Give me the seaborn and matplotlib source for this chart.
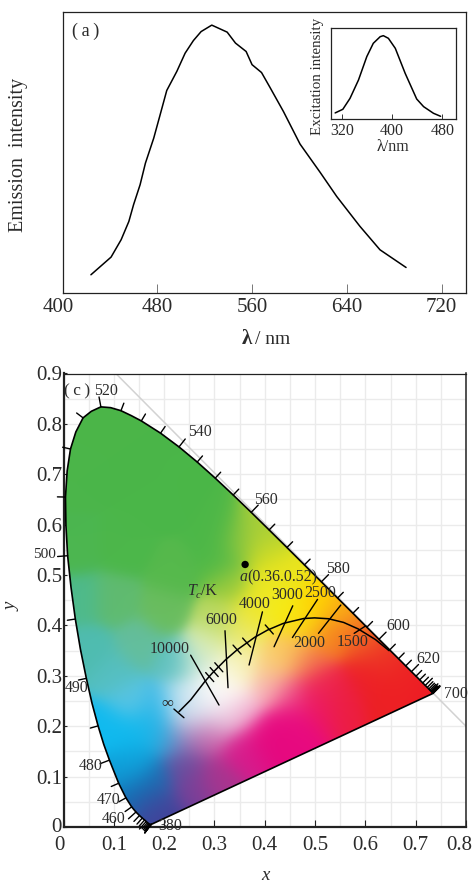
import numpy as np
import pandas as pd
import matplotlib
matplotlib.use("Agg")
import matplotlib.pyplot as plt
from matplotlib.patches import Polygon
from matplotlib.transforms import ScaledTranslation
import seaborn as sns

sns.set_theme(style="white")
plt.rcParams["font.family"] = ["Liberation Serif", "DejaVu Sans"]
plt.rcParams["text.color"] = "#2b2b2b"

W, H = 473, 882

# (a) emission curve
em_nm = [424, 441, 449.5, 456, 460, 465.5, 470, 477, 482, 488, 496.5, 503.5, 510.5, 517,
         526, 539, 546, 555, 560, 568, 575, 586.5, 600.5, 617.5, 631.5, 651, 668, 690]
em_val = [.065, .128, .19, .255, .315, .386, .463, .552, .629, .722, .79, .855, .90, .932,
          .955, .93, .891, .861, .814, .786, .734, .647, .531, .43, .344, .238, .154, .091]

# inset excitation curve
ex_nm = [309.4, 321.6, 333, 346.5, 359.7, 370, 381, 386, 394, 405, 420.7, 439, 450, 465.7, 477]
ex_val = [.07, .11, .23, .432, .689, .835, .908, .919, .89, .78, .505, .223, .139, .066, .033]

# (c) spectral locus
loc_nm = [380, 385, 390, 395, 400, 405, 410, 415, 420, 425, 430, 435, 440, 445, 450, 455, 460, 465, 470,
          475, 480, 482.5, 485, 487.5, 490, 492.5, 495, 497.5, 500, 502.5, 505, 507.5, 510, 512.5, 515, 517.5,
          520, 522.5, 525, 527.5, 530, 535, 540, 545, 550, 555, 560, 565, 570, 575, 580, 585, 590, 595, 600,
          605, 610, 615, 620, 625, 630, 635, 640, 645, 650, 655, 660, 665, 670, 675, 680, 685, 690, 695, 700]
loc_x = [.1741, .1740, .1738, .1736, .1733, .1730, .1726, .1721, .1714, .1703, .1689, .1669, .1644, .1611,
         .1566, .1510, .1440, .1355, .1241, .1096, .0913, .0800, .0687, .0568, .0454, .0336, .0235, .0149,
         .0082, .0048, .0039, .0073, .0139, .0245, .0389, .0553, .0743, .0938, .1142, .1345, .1547, .1929,
         .2296, .2658, .3016, .3373, .3731, .4087, .4441, .4788, .5125, .5448, .5752, .6029, .6270, .6482,
         .6658, .6801, .6915, .7006, .7079, .7140, .7190, .7230, .7260, .7283, .7300, .7311, .7320, .7327,
         .7334, .7340, .7344, .7346, .7347]
loc_y = [.0050, .0050, .0049, .0049, .0048, .0048, .0048, .0048, .0051, .0058, .0069, .0086, .0109, .0138,
         .0177, .0227, .0297, .0399, .0578, .0868, .1327, .1640, .2007, .2450, .2950, .3530, .4127, .4760,
         .5384, .5990, .6548, .7070, .7502, .7840, .8120, .8250, .8338, .8322, .8262, .8165, .8059, .7816,
         .7543, .7243, .6923, .6589, .6245, .5896, .5547, .5202, .4866, .4544, .4242, .3965, .3725, .3514,
         .3340, .3197, .3083, .2993, .2920, .2859, .2809, .2770, .2740, .2717, .2700, .2689, .2680, .2673,
         .2666, .2660, .2656, .2654, .2653]

# Planckian curve
pl_x = [.2295, .2528, .2807, .2951, .3221, .3451, .3805, .4053, .4369, .4770, .4990, .5267, .5567, .5857, .6200, .6470]
pl_y = [.2288, .2523, .2884, .3048, .3318, .3516, .3768, .3907, .4041, .4137, .4150, .4133, .4060, .3931, .3720, .3500]

# colour temperature lines
iso_names = ["10000", "6000", "4000", "3000", "2500", "2000", "1500"]
iso_x0 = [.2527, .321, .3954, .4557, .5049, .5512, .601]
iso_y0 = [.341, .3895, .427, .439, .4517, .4405, .3994]
iso_x1 = [.3091, .327, .3688, .4185, .455, .5068, .5777]
iso_y1 = [.242, .2764, .3214, .3577, .376, .3843, .3843]

# short marks on the Planckian curve
mark_x = [.2906, .2995, .3087, .345, .364, .409]
mark_y = [.2975, .3075, .317, .352, .366, .392]

# colours at some points
col_pts = [
    (.08, .80, "#4CB648"), (.03, .70, "#4BB54A"), (.20, .65, "#4AB648"), (.30, .58, "#4CB748"),
    (.12, .55, "#4CB74A"), (.306, .524, "#4DB848"), (.22, .50, "#56B94C"), (.15, .70, "#4AB648"),
    (.02, .55, "#4CB650"), (.10, .45, "#60BB70"), (.20, .43, "#6ABD5F"), (.03, .45, "#4EBA8C"),
    (.05, .35, "#4FBCB0"), (.10, .30, "#55BFC0"), (.13, .25, "#5AC5E6"), (.219, .325, "#5CC0C0"),
    (.15, .36, "#64BE9C"), (.12, .18, "#10BAEF"), (.08, .20, "#10BAEF"), (.17, .20, "#18B8EC"),
    (.14, .13, "#10A8E0"), (.12, .11, "#0E9ED8"), (.14, .07, "#1868B0"), (.18, .09, "#1C6CB2"),
    (.18, .04, "#3A4FA0"), (.20, .02, "#433E98"), (.25, .07, "#7B3F98"), (.30, .10, "#A8358F"),
    (.24, .12, "#6A4E9E"), (.35, .15, "#D81B8C"), (.40, .18, "#E6087F"), (.45, .21, "#E80A80"),
    (.50, .25, "#EC1468"), (.55, .26, "#EC1E40"), (.60, .30, "#ED2027"), (.68, .30, "#ED2224"),
    (.73, .265, "#ED1C24"), (.64, .27, "#ED2024"), (.60, .36, "#EE4A26"), (.64, .33, "#EE3526"),
    (.517, .278, "#EE2A50"), (.45, .266, "#EE4E8A"), (.405, .278, "#F8B8C0"), (.35, .23, "#F0B0D0"),
    (.306, .212, "#E8D0E4"), (.287, .178, "#C85AA5"), (.246, .178, "#9A5FA8"), (.207, .178, "#30A8DC"),
    (.247, .21, "#E2E4F0"), (.253, .235, "#CDE4F2"), (.239, .252, "#D0E8F2"), (.193, .238, "#3BB8E8"),
    (.286, .252, "#F8F8F8"), (.327, .266, "#FFFFFF"), (.30, .28, "#FBFBFB"), (.33, .31, "#FAF8E0"),
    (.352, .317, "#F6F0A0"), (.266, .325, "#CCE8D8"), (.306, .41, "#B8D860"), (.29, .36, "#DCEDB0"),
    (.372, .424, "#F0E830"), (.35, .38, "#EEEA70"), (.438, .437, "#F7EC13"), (.40, .47, "#EEE824"),
    (.352, .563, "#8CC63F"), (.405, .543, "#D7DF23"), (.445, .50, "#EBE51E"), (.332, .484, "#9CCB3C"),
    (.40, .58, "#A8CF38"), (.50, .45, "#FFD400"), (.48, .40, "#FCDC10"), (.552, .43, "#FBB016"),
    (.525, .377, "#F58220"), (.485, .325, "#F26A50"), (.45, .345, "#FACC60"), (.418, .317, "#FAD070"),
    (.58, .39, "#F47A22"),
]
col_x = [p[0] for p in col_pts]
col_y = [p[1] for p in col_pts]
col_hex = [p[2] for p in col_pts]

point_x, point_y = .361, .521

# labels of diagram (c)
lab_txt = ["520", "540", "560", "580", "600", "620", "700", "490", "480", "470", "460", "380"]
lab_x = [.085, .271, .402, .545, .665, .726, .780, .026, .054, .090, .099, .213]
lab_y = [.865, .784, .649, .512, .399, .333, .264, .275, .121, .054, .016, .002]
iso_lab_x = [.211, .314, .380, .444, .511, .488, .575]
iso_lab_y = [.354, .410, .443, .461, .464, .365, .367]

fig = plt.figure(figsize=(W / 100, H / 100), dpi=100)


def make_axes(left, right, top, bottom):
    return fig.add_axes([left / W, 1 - bottom / H, (right - left) / W, (bottom - top) / H])


# ---- (a) ----
ax = make_axes(62.5, 466, 12.5, 293)
sns.lineplot(x=em_nm, y=em_val, ax=ax, color="black", lw=1.1, estimator=None, sort=False)
ax.set_xlim(400, 740.6)
ax.set_ylim(0, 1)
ax.set_xticks([400, 480, 560, 640, 720])
ax.set_yticks([])
ax.tick_params(axis="x", direction="in", length=6.5, width=.7, color="#777777", labelsize=15,
               labelcolor="#2b2b2b", pad=3.5, bottom=True)
ax.get_xticklabels()[0].set_transform(ax.get_xticklabels()[0].get_transform()
                                      + ScaledTranslation(-4 / 100, 0, fig.dpi_scale_trans))
for s in ax.spines.values():
    s.set_color("#222222")
    s.set_linewidth(.9)
fig.text(86 / W, 1 - 31 / H, "(\u2009a\u2009)", fontsize=13, ha="center", va="center")
fig.text(19 / W, 1 - 155 / H, "Emission  intensity", rotation=90, fontsize=14.5, ha="center", va="center")
fig.text(247 / W, 1 - 339 / H, "λ", fontsize=15, fontweight="bold", ha="center", va="center")
fig.text(273 / W, 1 - 339 / H, "/ nm", fontsize=14, ha="center", va="center")

# inset
axi = make_axes(330.5, 455.5, 28.3, 119.3)
sns.lineplot(x=ex_nm, y=ex_val, ax=axi, color="black", lw=1.1, estimator=None, sort=False)
axi.set_xlim(302, 500.7)
axi.set_ylim(0, 1)
axi.set_xticks([320, 400, 480])
axi.set_yticks([])
axi.tick_params(axis="x", direction="in", length=3.5, width=.7, color="#333333", labelsize=11.5,
                labelcolor="#2b2b2b", pad=3, bottom=True)
for s in axi.spines.values():
    s.set_color("#222222")
    s.set_linewidth(.9)
fig.text(317 / W, 1 - 76 / H, "Excitation intensity", rotation=90, fontsize=10.8, ha="center", va="center")
fig.text(393 / W, 1 - 147 / H, "λ/nm", fontsize=11.5, ha="center", va="center")

# ---- (c) ----
ax2 = make_axes(63.5, 466, 373.5, 827)
ax2.set_xlim(0, .8)
ax2.set_ylim(0, .9)
ax2.set_axisbelow(True)
ax2.set_xticks(np.arange(.05, .8, .05), minor=True)
ax2.set_yticks(np.arange(.05, .9, .05), minor=True)
ax2.grid(which="both", color="#ebebeb", lw=1)
ax2.plot([.104, .8], [.9, .2], color="#d2d2d2", lw=1.1)

# colour fill, weighted from the picked colours
gx, gy = np.meshgrid(np.linspace(0, .8, 400), np.linspace(0, .9, 450))
rgb = np.array([matplotlib.colors.to_rgb(c) for c in col_hex])
dist = (gx[..., None] - np.array(col_x)) ** 2 + (gy[..., None] - np.array(col_y)) ** 2
weight = np.exp(-dist / (2 * .028 ** 2)) + 1e-12
img = (weight[..., None] * rgb).sum(axis=2) / weight.sum(axis=2, keepdims=True)
im = ax2.imshow(img, origin="lower", extent=[0, .8, 0, .9], aspect="auto", interpolation="bilinear", zorder=1)
im.set_clip_path(Polygon(np.column_stack([loc_x, loc_y]), transform=ax2.transData))

locus = pd.DataFrame({"x": loc_x + loc_x[:1], "y": loc_y + loc_y[:1]})
sns.lineplot(data=locus, x="x", y="y", ax=ax2, color="black", lw=1.2, estimator=None, sort=False, zorder=3)

# wavelength ticks, normal to the locus
lx, ly = np.array(loc_x), np.array(loc_y)
dx, dy = np.gradient(lx), np.gradient(ly)
norm = np.hypot(dx, dy)
norm[norm == 0] = 1
for i in range(len(lx)):
    if loc_nm[i] % 5 != 0:
        continue
    if loc_nm[i] < 420:
        nx, ny = -.6, -.8
    else:
        nx, ny = -dy[i] / norm[i], dx[i] / norm[i]
    size = .02 if loc_nm[i] % 20 == 0 else .016
    ax2.plot([lx[i], lx[i] + nx * size], [ly[i], ly[i] + ny * size], color="black", lw=1,
             zorder=3, clip_on=False)

sns.lineplot(x=pl_x, y=pl_y, ax=ax2, color="black", lw=1.1, estimator=None, sort=False, zorder=4)
for name, x0, y0, x1, y1 in zip(iso_names, iso_x0, iso_y0, iso_x1, iso_y1):
    ax2.plot([x0, x1], [y0, y1], color="black", lw=1, zorder=4)
for x, y in zip(mark_x, mark_y):
    ax2.plot([x - .008, x + .008], [y + .009, y - .009], color="black", lw=1, zorder=4)
ax2.plot([.2195, .2394], [.2341, .2169], color="black", lw=1, zorder=4)
sns.scatterplot(x=[point_x], y=[point_y], ax=ax2, color="black", s=28, zorder=5, edgecolor="none")

for t, x, y in zip(lab_txt, lab_x, lab_y):
    ax2.text(x, y, t, fontsize=11.4, ha="center", va="center", zorder=6)
for t, x, y in zip(iso_names, iso_lab_x, iso_lab_y):
    ax2.text(x, y, t, fontsize=11.4, ha="center", va="center", zorder=6)
fig.text(45 / W, 1 - 555 / H, "500", fontsize=11, ha="center", va="center")
ax2.text(.207, .244, "∞", fontsize=12, ha="center", va="center", zorder=6)
ax2.text(.256, .468, "T", fontsize=11.4, style="italic", ha="center", va="center", zorder=6)
ax2.text(.267, .460, "c", fontsize=8, style="italic", ha="center", va="center", zorder=6)
ax2.text(.289, .468, "/K", fontsize=11.4, ha="center", va="center", zorder=6)
ax2.text(.349, .496, "a", fontsize=11.4, style="italic", ha="left", va="center", zorder=6)
ax2.text(.366, .496, "(0.36.0.52)", fontsize=11.4, ha="left", va="center", zorder=6)
fig.text(77 / W, 1 - 391 / H, "(\u2009c\u2009)", fontsize=12.5, ha="center", va="center")

ax2.set_xticks(np.arange(0, .81, .1))
ax2.set_yticks(np.arange(0, .91, .1))
ax2.set_xticklabels(["0", "0.1", "0.2", "0.3", "0.4", "0.5", "0.6", "0.7", "0.8"])
ax2.set_yticklabels(["0", "0.1", "0.2", "0.3", "0.4", "0.5", "0.6", "0.7", "0.8", "0.9"])
ax2.tick_params(axis="x", which="major", direction="in", length=5, width=.8, color="#222222",
                labelsize=15, labelcolor="#2b2b2b", pad=6.5, bottom=True)
ax2.tick_params(axis="y", which="major", direction="in", length=2.5, width=.8, color="#222222",
                labelsize=15, labelcolor="#2b2b2b", pad=1, left=True)
ax2.tick_params(axis="both", which="minor", length=0)
ax2.get_xticklabels()[0].set_transform(ax2.get_xticklabels()[0].get_transform()
                                       + ScaledTranslation(-.04, 0, fig.dpi_scale_trans))
ax2.get_xticklabels()[-1].set_transform(ax2.get_xticklabels()[-1].get_transform()
                                        + ScaledTranslation(-.07, 0, fig.dpi_scale_trans))
ax2.get_yticklabels()[0].set_transform(ax2.get_yticklabels()[0].get_transform()
                                       + ScaledTranslation(0, .02, fig.dpi_scale_trans))
ax2.spines["left"].set_linewidth(1.6)
ax2.spines["bottom"].set_linewidth(1.6)
ax2.spines["top"].set_linewidth(.9)
ax2.spines["right"].set_linewidth(1.1)
for k in ["left", "bottom", "top", "right"]:
    ax2.spines[k].set_color("#222222")
ax2.set_xlabel("")
ax2.set_ylabel("")
ax.set_xlabel("")
axi.set_xlabel("")
fig.text(265 / W, 1 - 875 / H, "x", fontsize=13.5, style="italic", ha="center", va="center")
fig.text(12 / W, 1 - 607 / H, "y", fontsize=13.5, style="italic", rotation=90, ha="center", va="center")

fig.savefig("out.png", dpi=100)
